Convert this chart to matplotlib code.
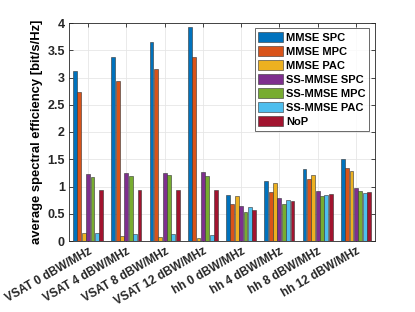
import numpy as np
import matplotlib
matplotlib.use("Agg")
import matplotlib.pyplot as plt

plt.rcParams['font.family'] = ['Liberation Sans', 'DejaVu Sans']

groups = ['VSAT 0 dBW/MHz', 'VSAT 4 dBW/MHz', 'VSAT 8 dBW/MHz', 'VSAT 12 dBW/MHz',
          'hh 0 dBW/MHz', 'hh 4 dBW/MHz', 'hh 8 dBW/MHz', 'hh 12 dBW/MHz']
series = ['MMSE SPC', 'MMSE MPC', 'MMSE PAC', 'SS-MMSE SPC', 'SS-MMSE MPC', 'SS-MMSE PAC', 'NoP']

mmse_spc = [3.12, 3.37, 3.65, 3.92, 0.85, 1.10, 1.32, 1.50]
mmse_mpc = [2.74, 2.94, 3.16, 3.38, 0.67, 0.89, 1.14, 1.34]
mmse_pac = [0.14, 0.10, 0.08, 0.06, 0.83, 1.06, 1.22, 1.29]
ss_spc = [1.23, 1.24, 1.25, 1.26, 0.64, 0.79, 0.91, 0.97]
ss_mpc = [1.17, 1.19, 1.21, 1.19, 0.54, 0.68, 0.82, 0.91]
ss_pac = [0.14, 0.13, 0.12, 0.105, 0.63, 0.76, 0.85, 0.88]
nop = [0.94, 0.94, 0.94, 0.94, 0.57, 0.74, 0.86, 0.90]

colors = ['#0072BD', '#D95319', '#EDB120', '#7E2F8E', '#77AC30', '#4DBEEE', '#A2142F']
data = [mmse_spc, mmse_mpc, mmse_pac, ss_spc, ss_mpc, ss_pac, nop]

fig = plt.figure(figsize=(4.15, 3.12), dpi=100)
ax = fig.add_axes([69 / 415, 1 - 241 / 312, 306 / 415, 218 / 312])

x = np.arange(1, len(groups) + 1)
n = len(series)
group_w = 0.8
bw = group_w / n
for i, (vals, c, name) in enumerate(zip(data, colors, series)):
    off = -group_w / 2 + bw * (i + 0.5)
    ax.bar(x + off, vals, width=bw * 0.9, color=c, edgecolor='#333333',
           linewidth=0.4, label=name, zorder=3)

ax.set_xlim(0.5, 8.5)
ax.set_ylim(0, 4)
ax.set_yticks(np.arange(0, 4.01, 0.5))
ax.set_yticklabels(['0', '0.5', '1', '1.5', '2', '2.5', '3', '3.5', '4'])
ax.set_xticks(x)
ax.set_xticklabels(groups, rotation=30, ha='right', rotation_mode='anchor')
ax.set_ylabel('average spectral efficiency [bit/s/Hz]', fontsize=9.4,
              fontweight='bold', labelpad=3)

ax.tick_params(direction='in', length=3, width=0.6, top=True, right=True,
               labelsize=9, colors='#262626', pad=3)
ax.tick_params(axis='x', labelsize=8.5)
for lab in ax.get_xticklabels() + ax.get_yticklabels():
    lab.set_fontweight('bold')
ax.grid(True, color='#e6e6e6', linewidth=0.6, zorder=0)
for s in ax.spines.values():
    s.set_color('#262626')
    s.set_linewidth(0.6)

leg = ax.legend(loc='upper right', bbox_to_anchor=(0.98, 0.975),
                prop={'weight': 'bold', 'size': 8}, fancybox=False,
                handlelength=2.2, handleheight=1.0, handletextpad=0.3,
                labelspacing=0.3, borderpad=0.3, borderaxespad=0)
leg.get_frame().set_edgecolor('#262626')
leg.get_frame().set_linewidth(0.6)

fig.savefig('out.png', dpi=100)
